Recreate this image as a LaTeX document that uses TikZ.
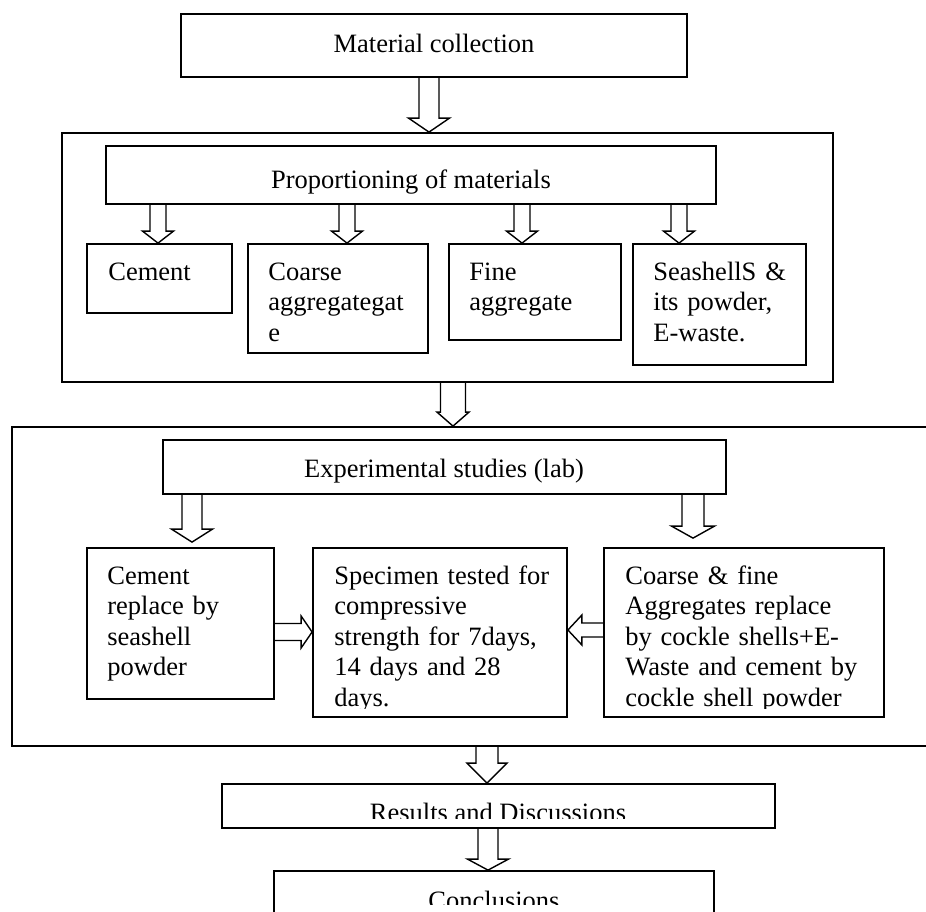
\documentclass[tikz,border=0pt]{standalone}
\usepackage{fontspec}
\setmainfont{Liberation Serif}
\usetikzlibrary{fit,calc}

% hollow block arrows: #1 start, #2 tip, #3 half shaft, #4 half head, #5 head length
\newcommand{\arrowdown}[5]{\draw[blockarrow] let \p1=(#1), \p2=(#2) in
    (\x1-#3,\y1) -- (\x1-#3,\y2+#5) -- (\x1-#4,\y2+#5) -- (\x1,\y2)
    -- (\x1+#4,\y2+#5) -- (\x1+#3,\y2+#5) -- (\x1+#3,\y1);}
\newcommand{\arrowright}[5]{\draw[blockarrow] let \p1=(#1), \p2=(#2) in
    (\x1,\y1+#3) -- (\x2-#5,\y1+#3) -- (\x2-#5,\y1+#4) -- (\x2,\y1)
    -- (\x2-#5,\y1-#4) -- (\x2-#5,\y1-#3) -- (\x1,\y1-#3);}
\newcommand{\arrowleft}[5]{\draw[blockarrow] let \p1=(#1), \p2=(#2) in
    (\x1,\y1+#3) -- (\x2+#5,\y1+#3) -- (\x2+#5,\y1+#4) -- (\x2,\y1)
    -- (\x2+#5,\y1-#4) -- (\x2+#5,\y1-#3) -- (\x1,\y1-#3);}

\begin{document}
\begin{tikzpicture}[
    x=0.5pt, y=-0.5pt,
    box/.style={draw, line width=0.9pt, inner sep=0pt},
    txt/.style={inner sep=0pt, font=\fontsize{13.25}{15.25}\selectfont},
    para/.style={txt, anchor=base west, text width=150pt, align=left},
    blockarrow/.style={draw, line width=0.7pt, line join=miter}
]
    \useasboundingbox (0,0) rectangle (926,911);

    % boxes
    \node[box, fit={(181,14) (687,77)}] (mc) {};
    \node[box, fit={(62,133) (833,382)}] (outer1) {};
    \node[box, fit={(106,146) (716,204)}] (prop) {};
    \node[box, fit={(87,244) (232,313)}] (cement) {};
    \node[box, fit={(248,244) (428,353)}] (coarse) {};
    \node[box, fit={(449,244) (621,340)}] (fine) {};
    \node[box, fit={(633,244) (806,365)}] (shell) {};
    \node[box, fit={(12,427) (945,746)}] (outer2) {};
    \node[box, fit={(163,440) (726,494)}] (exp) {};
    \node[box, fit={(87,548) (274,699)}] (cr) {};
    \node[box, fit={(313,548) (567,717)}] (spec) {};
    \node[box, fit={(604,548) (884,717)}] (cf) {};
    \node[box, fit={(222,784) (775,828)}] (results) {};
    \node[box, fit={(274,871) (714,935)}] (conc) {};

    % texts
    \node[txt, anchor=base] (mc-t) at (434,52) {Material collection};
    \node[txt, anchor=base] (prop-t) at (411,188) {Proportioning of materials};
    \node[para] (cement-t) at (108,280) {Cement};
    \node[para] (coarse-t) at (268,280) {Coarse\\aggregategat\\e};
    \node[para] (fine-t) at (469,280) {Fine\\aggregate};
    \node[para] (shell-t) at (653,280) {SeashellS \&\\its powder,\\E-waste.};
    \node[txt, anchor=base] (exp-t) at (444,477) {Experimental studies (lab)};
    \node[para] (cr-t) at (107,584) {Cement\\replace by\\seashell\\powder};
    \begin{scope}
        \clip (313,548) rectangle (567,708);
        \node[para] (spec-t) at (334,584) {Specimen tested for\\compressive\\strength for 7days,\\14 days and 28\\days.};
    \end{scope}
    \begin{scope}
        \clip (604,548) rectangle (884,708);
        \node[para] (cf-t) at (625,584) {Coarse \& fine\\Aggregates replace\\by cockle shells+E-\\Waste and cement by\\cockle shell powder};
    \end{scope}
    \begin{scope}
        \clip (222,784) rectangle (775,818);
        \node[txt, anchor=base] (results-t) at (498,821) {Results and Discussions};
    \end{scope}
    \begin{scope}
        \clip (274,871) rectangle (714,904);
        \node[txt, anchor=base] (conc-t) at (494,909) {Conclusions};
    \end{scope}

    % arrows
    \arrowdown{mc.south -| 429,0}{outer1.north}{5pt}{10.25pt}{7pt}
    \arrowdown{prop.south -| 158,0}{cement.north}{4pt}{7.75pt}{6pt}
    \arrowdown{prop.south -| 347,0}{coarse.north}{4pt}{7.75pt}{6pt}
    \arrowdown{prop.south -| 522,0}{fine.north}{4pt}{7.75pt}{6pt}
    \arrowdown{prop.south -| 679,0}{shell.north}{4pt}{7.75pt}{6pt}
    \arrowdown{outer1.south -| 453,0}{outer2.north}{6.25pt}{8pt}{7pt}
    \arrowdown{exp.south -| 192,0}{$(cr.north)+(0,-5)$}{5pt}{10.25pt}{6.5pt}
    \arrowdown{exp.south -| 693,0}{$(cf.north)+(0,-9)$}{5.5pt}{10.75pt}{6pt}
    \arrowright{cr.east |- 0,632}{spec.west}{4.25pt}{8pt}{5.5pt}
    \arrowleft{cf.west |- 0,630}{spec.east}{3.5pt}{7.5pt}{7pt}
    \arrowdown{outer2.south -| 487,0}{results.north}{5.5pt}{10pt}{10pt}
    \arrowdown{results.south -| 488,0}{conc.north}{5pt}{10.25pt}{5.5pt}
\end{tikzpicture}
\end{document}
